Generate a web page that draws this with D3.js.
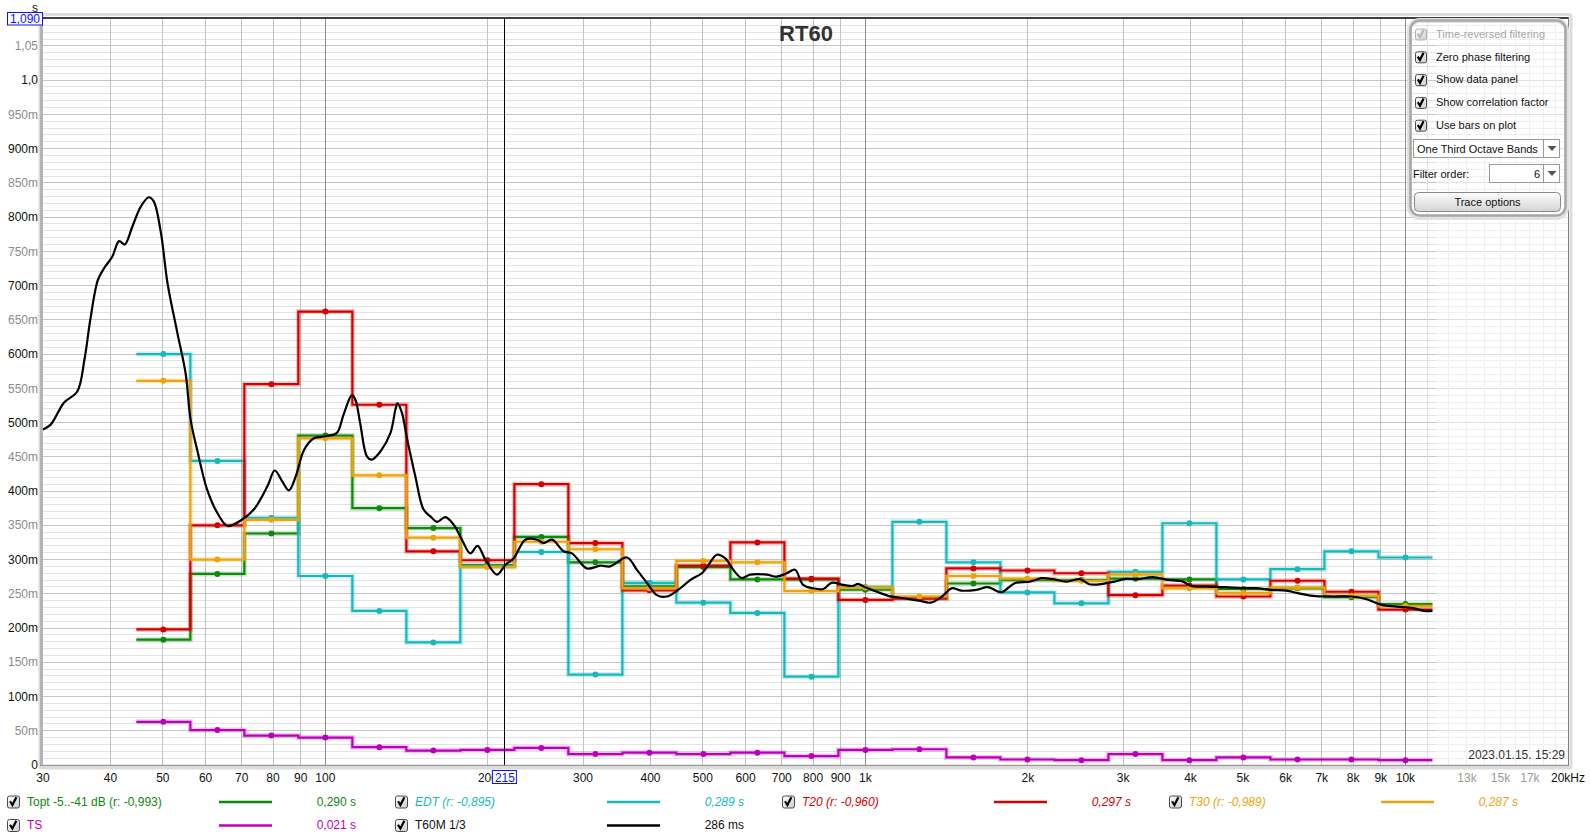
<!DOCTYPE html>
<html><head><meta charset="utf-8">
<script src="https://cdn.jsdelivr.net/npm/d3@7"></script>
<style>body{margin:0;background:#fff}svg{display:block;font-family:"Liberation Sans",Arial,sans-serif}</style>
</head><body><svg id="c" width="1590" height="840"></svg>
<script>
// ---------- data ----------
const bands=[50,63,80,100,125,160,200,250,315,400,500,630,800,1000,1250,1600,2000,2500,3150,4000,5000,6300,8000,10000];
const topt=[0.183,0.279,0.338,0.481,0.375,0.346,0.292,0.333,0.296,0.261,0.289,0.271,0.271,0.256,0.244,0.265,0.270,0.270,0.272,0.271,0.257,0.258,0.245,0.235];
const edt =[0.600,0.444,0.361,0.276,0.225,0.179,0.290,0.311,0.132,0.266,0.237,0.222,0.129,0.260,0.355,0.296,0.252,0.236,0.282,0.353,0.271,0.286,0.312,0.303];
const t20 =[0.198,0.350,0.556,0.662,0.526,0.312,0.299,0.410,0.324,0.255,0.291,0.325,0.272,0.241,0.243,0.287,0.284,0.280,0.248,0.262,0.246,0.269,0.253,0.227];
const t30 =[0.561,0.300,0.358,0.477,0.423,0.332,0.289,0.326,0.315,0.258,0.298,0.296,0.254,0.259,0.246,0.276,0.272,0.269,0.278,0.258,0.251,0.259,0.247,0.232];
const ts  =[0.063,0.051,0.043,0.040,0.026,0.021,0.022,0.025,0.016,0.018,0.016,0.018,0.013,0.022,0.023,0.011,0.008,0.007,0.016,0.007,0.011,0.008,0.008,0.007];
const t60Freq=[30,31,32.8,34.7,35.8,36.7,37.9,38.9,40.3,41.5,42.5,43.9,45.5,47.1,48.1,49.6,51,53.2,55.1,56.3,57.9,60.4,63.1,65.9,69.7,73.7,78.1,80.6,83.2,85.6,88.1,91.3,95.2,100,105,108,112,113.7,116,119.5,122,126.5,132,134.8,136,138.5,141.8,146.8,152,156.5,161,166.8,172.8,179,185.5,191.3,197.8,207.8,215.4,223.3,234.6,246.6,253.6,262.8,276.2,286.2,305.1,322.8,336.9,361.7,377.5,393.9,411.1,428.9,453.9,473.6,497.8,512,530.7,549.8,569.4,590.2,611.6,656.6,685,715,740.6,767,801,835.5,866,910,949,968,1000,1050,1103,1177,1257,1320,1386,1444,1504,1605,1687,1785,1890,2017,2120,2226,2356,2496,2597,2752,2891,3036,3189,3404,3630,3875,4005,4275,4640,4950,5280,5636,6020,6320,6745,7315,7940,8475,9040,9650,10330,10860,11220];
const t60Val=[0.490,0.497,0.529,0.545,0.592,0.650,0.708,0.725,0.742,0.765,0.760,0.786,0.815,0.829,0.823,0.777,0.704,0.631,0.572,0.504,0.460,0.402,0.368,0.349,0.357,0.373,0.407,0.430,0.414,0.401,0.421,0.460,0.477,0.480,0.485,0.511,0.540,0.533,0.499,0.450,0.446,0.458,0.485,0.519,0.528,0.515,0.475,0.421,0.373,0.363,0.355,0.362,0.351,0.329,0.309,0.320,0.300,0.278,0.292,0.302,0.329,0.329,0.324,0.329,0.312,0.309,0.287,0.291,0.290,0.303,0.285,0.266,0.248,0.246,0.258,0.270,0.280,0.292,0.307,0.302,0.285,0.273,0.278,0.278,0.275,0.280,0.285,0.263,0.258,0.257,0.266,0.263,0.2615,0.2645,0.2596,0.253,0.247,0.2435,0.240,0.237,0.246,0.258,0.2547,0.2557,0.2596,0.2523,0.2655,0.2678,0.2728,0.2713,0.2678,0.2713,0.264,0.2645,0.2678,0.2718,0.2713,0.2742,0.2703,0.2678,0.2615,0.2605,0.2596,0.2582,0.2582,0.2557,0.2547,0.2509,0.247,0.246,0.246,0.2421,0.2338,0.2313,0.229,0.225,0.225];
const yTickVals=[0,0.05,0.1,0.15,0.2,0.25,0.3,0.35,0.4,0.45,0.5,0.55,0.6,0.65,0.7,0.75,0.8,0.85,0.9,0.95,1.0,1.05];
const yTickLabels=["0","50m","100m","150m","200m","250m","300m","350m","400m","450m","500m","550m","600m","650m","700m","750m","800m","850m","900m","950m","1,0","1,05"];
const xTickVals=[30,40,50,60,70,80,90,100,200,300,400,500,600,700,800,900,1000,2000,3000,4000,5000,6000,7000,8000,9000,10000,13000,15000,17000,20000];
const xTickLabels=["30","40","50","60","70","80","90","100","200","300","400","500","600","700","800","900","1k","2k","3k","4k","5k","6k","7k","8k","9k","10k","13k","15k","17k","20kHz"];
const cursorFreq=215;

// ---------- setup ----------
const svg=d3.select("#c");
svg.append("rect").attr("width",1590).attr("height",840).attr("fill","#fff");
const X0=43,X1=1568,Y0=765,Y1=18.5;
const x=d3.scaleLog().domain([30,20000]).range([X0,X1]);
const y=d3.scaleLinear().domain([0,1.09]).range([Y0,Y1]);

// frame shadow
svg.append("rect").attr("x",X0-3).attr("y",Y1-4).attr("width",X1-X0+6).attr("height",Y0-Y1+7)
  .attr("fill","none").attr("stroke","#dcdcdc").attr("stroke-width",3).attr("rx",2);

const g=svg.append("g");
for(let i=1;i<=108;i++){
  const v=i/100, major=(i%5===0);
  g.append("line").attr("x1",X0).attr("x2",X1).attr("y1",y(v)).attr("y2",y(v))
   .attr("stroke",major?"#c6c6c6":"#e4e4e4").attr("stroke-width",1).attr("shape-rendering","crispEdges");
}
const vgrid=[40,50,60,70,80,90,100,200,300,400,500,600,700,800,900,1000,2000,3000,4000,5000,6000,7000,8000,9000,10000];
vgrid.forEach(f=>{
  const dec=(f===100||f===1000||f===10000);
  g.append("line").attr("x1",x(f)).attr("x2",x(f)).attr("y1",Y1).attr("y2",Y0)
   .attr("stroke",dec?"#8c8c8c":"#c2c2c2").attr("stroke-width",1).attr("shape-rendering","crispEdges");
});
d3.range(11000,20000,1000).forEach(f=>{
  g.append("line").attr("x1",x(f)).attr("x2",x(f)).attr("y1",Y1).attr("y2",Y0)
   .attr("stroke","#e2e2e2").attr("stroke-width",1).attr("shape-rendering","crispEdges");
});
g.append("rect").attr("x",x(11400)).attr("y",Y1).attr("width",X1-x(11400)).attr("height",Y0-Y1)
  .attr("fill","#fff").attr("opacity",0.45);

// frame
svg.append("line").attr("x1",X0-3).attr("x2",X1+1).attr("y1",Y1-0.5).attr("y2",Y1-0.5).attr("stroke","#000").attr("stroke-width",1.5);
svg.append("line").attr("x1",X0-1.5).attr("x2",X0-1.5).attr("y1",Y1).attr("y2",Y0+1).attr("stroke","#b4b4b4").attr("stroke-width",3);
svg.append("line").attr("x1",X0-3).attr("x2",X1+1).attr("y1",Y0+0.5).attr("y2",Y0+0.5).attr("stroke","#9a9a9a").attr("stroke-width",1.5);
svg.append("line").attr("x1",X1+0.5).attr("x2",X1+0.5).attr("y1",Y1-1).attr("y2",Y0+1).attr("stroke","#808080").attr("stroke-width",1);

svg.append("text").attr("x",806).attr("y",41).attr("text-anchor","middle").attr("font-size",22)
  .attr("font-weight","bold").attr("fill","#333").text("RT60");

yTickVals.forEach((v,i)=>{
  const black=(Math.round(v*100)%10===0);
  svg.append("text").attr("x",38).attr("y",y(v)).attr("dy","0.35em").attr("text-anchor","end")
   .attr("font-size",12).attr("fill",black?"#111":"#8c8c8c").text(yTickLabels[i]);
});
svg.append("text").attr("x",35).attr("y",12).attr("text-anchor","middle").attr("font-size",12).attr("fill","#111").text("s");
svg.append("rect").attr("x",7.5).attr("y",12.5).attr("width",35).attr("height",12.5).attr("fill","#fff").attr("stroke","#1010ff");
svg.append("text").attr("x",25).attr("y",19).attr("dy","0.35em").attr("text-anchor","middle").attr("font-size",12).attr("fill","#1010ff").text("1,090");

xTickVals.forEach((f,i)=>{
  const gray=(f===13000||f===15000||f===17000);
  svg.append("text").attr("x",x(f)).attr("y",778).attr("dy","0.35em").attr("text-anchor","middle")
   .attr("font-size",12).attr("fill",gray?"#9a9a9a":"#111").text(xTickLabels[i]);
});

svg.append("text").attr("x",1565).attr("y",755).attr("dy","0.35em").attr("text-anchor","end")
  .attr("font-size",12).attr("fill","#333").text("2023.01.15. 15:29");

// ---------- series ----------
const colors={topt:"#0b8a0b",edt:"#17b9be",t20:"#d40000",t30:"#efa30a",ts:"#bb00bb",t60:"#000"};
const center=f=>Math.pow(10,Math.round(10*Math.log10(f))/10);
const line=d3.line().x(d=>x(d[0])).y(d=>y(d[1]));
function bandSeries(vals,color){
  const pts=[];
  bands.forEach((f,i)=>{const c=center(f);pts.push([c*Math.pow(10,-0.05),vals[i]]);pts.push([c*Math.pow(10,0.05),vals[i]]);});
  const gg=svg.append("g");
  gg.append("path").attr("d",line(pts)).attr("fill","none").attr("stroke",color).attr("stroke-opacity",0.22).attr("stroke-width",5);
  gg.append("path").attr("d",line(pts)).attr("fill","none").attr("stroke",color).attr("stroke-width",2.2);
  gg.selectAll("circle").data(bands).join("circle").attr("cx",(f)=>x(center(f))).attr("cy",(f,i)=>y(vals[i]))
    .attr("r",3).attr("fill",color);
}
bandSeries(topt,colors.topt);
bandSeries(edt,colors.edt);
bandSeries(t20,colors.t20);
bandSeries(t30,colors.t30);
bandSeries(ts,colors.ts);
const blk=t60Freq.map((f,i)=>[f,t60Val[i]]);
svg.append("path").attr("d",d3.line().x(d=>x(d[0])).y(d=>y(d[1])).curve(d3.curveCatmullRom)(blk))
  .attr("fill","none").attr("stroke","#000").attr("stroke-width",2.2);

svg.append("line").attr("x1",x(cursorFreq)).attr("x2",x(cursorFreq)).attr("y1",Y1).attr("y2",Y0)
  .attr("stroke","#000").attr("stroke-width",1).attr("shape-rendering","crispEdges");
svg.append("rect").attr("x",x(cursorFreq)-12.5).attr("y",770.5).attr("width",24).attr("height",13).attr("fill","#fff").attr("stroke","#1010ff");
svg.append("text").attr("x",x(cursorFreq)).attr("y",778).attr("dy","0.35em").attr("text-anchor","middle").attr("font-size",12).attr("fill","#1010ff").text(String(cursorFreq));

// ---------- checkbox helper ----------
const defs=svg.append("defs");
const gr=defs.append("linearGradient").attr("id","cbg").attr("x1",0).attr("y1",0).attr("x2",1).attr("y2",1);
gr.append("stop").attr("offset","0").attr("stop-color","#ffffff");
gr.append("stop").attr("offset","1").attr("stop-color","#cccccc");
const bg=defs.append("linearGradient").attr("id","btg").attr("x1",0).attr("y1",0).attr("x2",0).attr("y2",1);
bg.append("stop").attr("offset","0").attr("stop-color","#fdfdfd");
bg.append("stop").attr("offset","1").attr("stop-color","#d4d4d4");
function checkbox(cx,cy,size,disabled){
  const s=size;
  svg.append("rect").attr("x",cx+0.5).attr("y",cy-s/2+0.5).attr("width",s).attr("height",s).attr("rx",2)
    .attr("fill","url(#cbg)").attr("stroke",disabled?"#b0b0b0":"#4a4a4a");
  svg.append("path").attr("d",`M${cx+s*0.25},${cy-s*0.02} L${cx+s*0.45},${cy+s*0.3} L${cx+s*0.78},${cy-s*0.36}`)
    .attr("fill","none").attr("stroke",disabled?"#b8b8b8":"#000").attr("stroke-width",2.2);
}

// ---------- legend ----------
const legend=[
  {col:0,row:0,label:"Topt -5..-41 dB (r: -0,993)",color:colors.topt,italic:false,value:"0,290 s"},
  {col:1,row:0,label:"EDT (r: -0,895)",color:colors.edt,italic:true,value:"0,289 s"},
  {col:2,row:0,label:"T20 (r: -0,960)",color:colors.t20,italic:true,value:"0,297 s"},
  {col:3,row:0,label:"T30 (r: -0,989)",color:colors.t30,italic:true,value:"0,287 s"},
  {col:0,row:1,label:"TS",color:colors.ts,italic:false,value:"0,021 s"},
  {col:1,row:1,label:"T60M 1/3",color:"#111",italic:false,value:"286 ms"}
];
const colX=[7,395,782,1169];
legend.forEach(d=>{
  const cx=colX[d.col], cy=d.row===0?801.5:825;
  checkbox(cx,cy,12,false);
  svg.append("text").attr("x",cx+20).attr("y",cy).attr("dy","0.35em").attr("font-size",12).attr("fill",d.color)
    .attr("font-style",d.italic?"italic":"normal").text(d.label);
  svg.append("line").attr("x1",cx+212).attr("x2",cx+265).attr("y1",cy+0.5).attr("y2",cy+0.5).attr("stroke",d.color==="#111"?"#000":d.color).attr("stroke-width",2.5);
  svg.append("text").attr("x",cx+349).attr("y",cy).attr("dy","0.35em").attr("text-anchor","end").attr("font-size",12).attr("fill",d.color)
    .attr("font-style",d.italic?"italic":"normal").text(d.value);
});

// ---------- control panel ----------
svg.append("rect").attr("x",1409.5).attr("y",20.5).attr("width",157).attr("height",197).attr("rx",10)
  .attr("fill","none").attr("stroke","#e0e0e0").attr("stroke-width",5);
svg.append("rect").attr("x",1410.5).attr("y",20.5).attr("width",155).attr("height",195).attr("rx",9)
  .attr("fill","none").attr("stroke","#a8a8a8").attr("stroke-width",2.5);
const opts=[["Time-reversed filtering",true],["Zero phase filtering",false],["Show data panel",false],["Show correlation factor",false],["Use bars on plot",false]];
opts.forEach((o,i)=>{
  const cy=34+i*22.8;
  checkbox(1415,cy,11,o[1]);
  svg.append("text").attr("x",1436).attr("y",cy).attr("dy","0.35em").attr("font-size",11).attr("fill",o[1]?"#a8a8a8":"#111").text(o[0]);
});
svg.append("rect").attr("x",1413.5).attr("y",139.5).attr("width",146).attr("height",18).attr("fill","#fff").attr("stroke","#9a9a9a");
svg.append("line").attr("x1",1543.5).attr("x2",1543.5).attr("y1",140).attr("y2",157).attr("stroke","#9a9a9a");
svg.append("path").attr("d","M1547.5,146 L1556.5,146 L1552,151 Z").attr("fill","#555");
svg.append("text").attr("x",1417).attr("y",149).attr("dy","0.35em").attr("font-size",11).attr("fill","#111").text("One Third Octave Bands");
svg.append("text").attr("x",1413).attr("y",174).attr("dy","0.35em").attr("font-size",11).attr("fill","#111").text("Filter order:");
svg.append("rect").attr("x",1489.5).attr("y",164.5).attr("width",70).attr("height",18).attr("fill","#fff").attr("stroke","#9a9a9a");
svg.append("line").attr("x1",1543.5).attr("x2",1543.5).attr("y1",165).attr("y2",182).attr("stroke","#9a9a9a");
svg.append("path").attr("d","M1547.5,171 L1556.5,171 L1552,176 Z").attr("fill","#555");
svg.append("text").attr("x",1540).attr("y",174).attr("dy","0.35em").attr("text-anchor","end").attr("font-size",11).attr("fill","#111").text("6");
svg.append("rect").attr("x",1414.5).attr("y",192.5).attr("width",146).attr("height",19).attr("rx",4)
  .attr("fill","url(#btg)").attr("stroke","#8a8a8a");
svg.append("text").attr("x",1487.5).attr("y",202).attr("dy","0.35em").attr("text-anchor","middle").attr("font-size",11).attr("fill","#111").text("Trace options");
</script></body></html>
